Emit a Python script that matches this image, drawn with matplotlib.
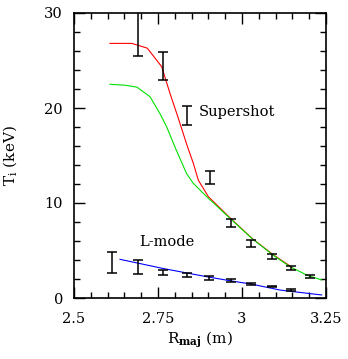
import matplotlib.pyplot as plt
from matplotlib.ticker import MultipleLocator

plt.rcParams['font.family'] = 'DejaVu Serif'
plt.rcParams['mathtext.fontset'] = 'dejavuserif'

# measured ion temperature profiles with error bars
ss_r = [2.69, 2.766, 2.837, 2.905, 2.966, 3.027, 3.088, 3.146, 3.202]
ss_ti = [28.0, 24.4, 19.2, 12.7, 7.9, 5.75, 4.35, 3.2, 2.3]
ss_err = [2.5, 1.5, 1.0, 0.7, 0.45, 0.35, 0.27, 0.2, 0.15]

lm_r = [2.612, 2.69, 2.766, 2.837, 2.903, 2.966, 3.027, 3.088, 3.146]
lm_ti = [3.7, 3.3, 2.7, 2.4, 2.1, 1.8, 1.5, 1.2, 0.85]
lm_err = [1.1, 0.75, 0.3, 0.2, 0.2, 0.15, 0.1, 0.07, 0.07]

# model profiles
red_r = [2.607, 2.672, 2.718, 2.761, 2.786, 2.806, 2.838, 2.855, 2.87, 2.9,
         2.964, 3.029, 3.093, 3.15]
red_ti = [26.8, 26.8, 26.3, 24.35, 21.5, 19.4, 15.9, 14.2, 12.4, 10.66,
          8.45, 6.3, 4.55, 3.2]

green_r = [2.607, 2.652, 2.687, 2.726, 2.756, 2.776, 2.804, 2.835, 2.855,
           2.895, 2.964, 3.029, 3.093, 3.143, 3.192, 3.237]
green_ti = [22.5, 22.4, 22.2, 21.2, 19.4, 18.0, 15.6, 13.1, 12.07, 10.66,
            8.4, 6.28, 4.5, 3.3, 2.42, 1.9]

blue_r = [2.637, 2.766, 2.895, 2.964, 3.03, 3.113, 3.237]
blue_ti = [4.07, 3.1, 2.24, 1.82, 1.45, 0.84, 0.32]

fig = plt.figure(figsize=(3.48, 3.59), dpi=100)
ax = fig.add_axes([74 / 348, 61 / 359, 252 / 348, 285 / 359])

ax.plot(red_r, red_ti, color='red', lw=0.8)
ax.plot(green_r, green_ti, color='#00e000', lw=0.8)
ax.plot(blue_r, blue_ti, color='blue', lw=0.8)

ax.errorbar(ss_r, ss_ti, yerr=ss_err, fmt='none', ecolor='black',
            elinewidth=1.1, capsize=3.5, capthick=1.1)
ax.errorbar(lm_r, lm_ti, yerr=lm_err, fmt='none', ecolor='black',
            elinewidth=1.1, capsize=3.5, capthick=1.1)

ax.text(2.872, 19.6, 'Supershot', fontsize=10.5, va='center')
ax.text(2.695, 5.9, 'L-mode', fontsize=10.5, va='center')

ax.set_xlim(2.5, 3.25)
ax.set_ylim(0, 30)
ax.xaxis.set_major_locator(MultipleLocator(0.25))
ax.xaxis.set_minor_locator(MultipleLocator(0.05))
ax.yaxis.set_major_locator(MultipleLocator(10))
ax.yaxis.set_minor_locator(MultipleLocator(2))
ax.set_xticks([2.5, 2.75, 3.0, 3.25], ['2.5', '2.75', '3', '3.25'])
ax.tick_params(which='both', direction='in', top=True, right=True,
               labelsize=10.5)
ax.tick_params(axis='x', which='major', pad=10)
ax.tick_params(axis='y', which='major', pad=8)
ax.tick_params(which='major', length=8, width=1)
ax.tick_params(which='minor', length=4, width=1)
for s in ax.spines.values():
    s.set_linewidth(1.2)

ax.set_xlabel(r'R$_{\mathbf{maj}}$ (m)', fontsize=11, labelpad=3)
ax.set_ylabel(r'T$_{\mathrm{i}}$ (keV)', fontsize=11, labelpad=18)

fig.savefig('out.png', dpi=100)
